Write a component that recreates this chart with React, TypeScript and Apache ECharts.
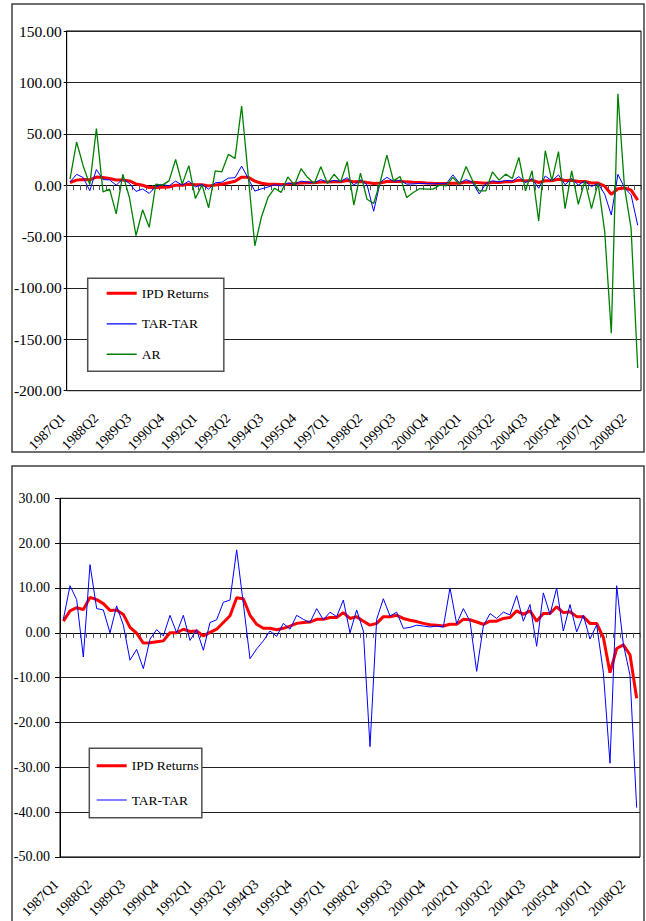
import React, { useEffect, useRef } from "react";
import * as echarts from "echarts";

const QUARTERS = [
  "1987Q1","1987Q2","1987Q3","1987Q4","1988Q1","1988Q2","1988Q3","1988Q4",
  "1989Q1","1989Q2","1989Q3","1989Q4","1990Q1","1990Q2","1990Q3","1990Q4",
  "1991Q1","1991Q2","1991Q3","1991Q4","1992Q1","1992Q2","1992Q3","1992Q4",
  "1993Q1","1993Q2","1993Q3","1993Q4","1994Q1","1994Q2","1994Q3","1994Q4",
  "1995Q1","1995Q2","1995Q3","1995Q4","1996Q1","1996Q2","1996Q3","1996Q4",
  "1997Q1","1997Q2","1997Q3","1997Q4","1998Q1","1998Q2","1998Q3","1998Q4",
  "1999Q1","1999Q2","1999Q3","1999Q4","2000Q1","2000Q2","2000Q3","2000Q4",
  "2001Q1","2001Q2","2001Q3","2001Q4","2002Q1","2002Q2","2002Q3","2002Q4",
  "2003Q1","2003Q2","2003Q3","2003Q4","2004Q1","2004Q2","2004Q3","2004Q4",
  "2005Q1","2005Q2","2005Q3","2005Q4","2006Q1","2006Q2","2006Q3","2006Q4",
  "2007Q1","2007Q2","2007Q3","2007Q4","2008Q1","2008Q2","2008Q3",
];

const IPD_RETURNS = [
  2.6, 4.9, 5.6, 5.2, 7.9, 7.4, 6.5, 5.0, 5.1, 4.1,
  1.2, -0.1, -2.3, -2.2, -2.0, -1.8, 0.0, 0.0, 0.8, 0.3,
  0.4, -0.7, 0.1, 0.8, 2.3, 3.8, 7.8, 7.6, 3.9, 1.9,
  1.0, 1.0, 0.7, 1.0, 1.5, 2.1, 2.3, 2.4, 3.0, 3.0,
  3.4, 3.4, 4.5, 3.2, 3.6, 2.6, 1.7, 2.1, 3.6, 3.6,
  3.9, 3.2, 2.8, 2.5, 2.1, 1.8, 1.7, 1.5, 1.9, 1.9,
  3.0, 2.9, 2.4, 1.9, 2.6, 2.6, 3.2, 3.4, 4.9, 4.1,
  4.9, 2.6, 4.3, 4.3, 5.8, 4.5, 4.7, 3.6, 3.6, 2.1,
  2.1, -1.0, -8.9, -3.5, -2.7, -4.9, -14.6,
];

const TAR_TAR = [
  3.0, 10.5, 7.4, -5.4, 15.2, 5.4, 5.1, 0.0, 6.0, 1.7,
  -6.1, -3.7, -8.0, -1.4, 0.7, -0.7, 3.9, 0.0, 3.9, -1.7,
  0.7, -3.9, 2.3, 2.9, 6.8, 7.3, 18.5, 6.5, -5.8, -3.6,
  -1.8, 0.4, -0.8, 2.1, 0.8, 3.9, 3.0, 2.3, 5.4, 2.9,
  4.6, 3.6, 7.3, 0.0, 5.1, 0.4, -25.4, 3.0, 7.6, 3.75,
  4.6, 1.0, 1.2, 1.7, 1.5, 1.3, 1.5, 1.3, 10.0, 2.0,
  5.4, 2.6, -8.6, 1.5, 4.3, 3.2, 4.6, 4.0, 8.3, 2.6,
  6.3, -3.0, 8.9, 4.1, 10.0, 0.4, 6.3, 0.2, 3.9, -1.4,
  1.8, -8.8, -29.1, 10.5, -2.5, -9.5, -39.0,
];

const AR = [
  5.8, 42, 18.7, 0.5, 55, -6.5, -3.9, -28, 10.6, -12,
  -49, -24, -41, 1, 0, 4.2, 25, 1, 19, -13,
  0.3, -22, 14, 13, 30, 26, 77, 9, -59, -31,
  -12, -3, -7, 8, 0, 16, 7.4, 1.6, 18, 1.6,
  10.6, 3.2, 22.8, -19.5, 11.7, -13.7, -17.9, 3.3, 29.3, 4.2,
  8.5, -12, -7.2, -3.3, -3.9, -3.9, 0, -0.7, 7.5, 1,
  18.2, 4.2, -5.5, -5.5, 13, 4.9, 10.7, 6.5, 27, -5.5,
  14, -34.9, 33.5, 4.2, 32.6, -22.8, 14, -18.6, 4.2, -22.8,
  2, -45, -144, 89, -2, -42, -178,
];

const TOP_Y_RANGE = [-200, 150];
const TOP_Y_STEP = 50;
const BOTTOM_Y_RANGE = [-50, 30];
const BOTTOM_Y_STEP = 10;

const FONT = '"Liberation Serif", "Times New Roman", serif';

// legend line icons (tiny corner points keep the 30x14 box so the bar keeps its thickness)
const lineIcon = (thick: number) => {
  const y0 = 7 - thick / 2;
  return `path://M0,0h0.01v0.01h-0.01z M29.99,13.99h0.01v0.01h-0.01z M0,${y0}h30v${thick}h-30z`;
};

export default function App() {
  const ref = useRef<HTMLDivElement>(null);

  useEffect(() => {
    if (!ref.current) return;
    const chart = echarts.init(ref.current, null, { renderer: "svg" });

    const zeroAxis = (gridIndex: number) => ({
      type: "category",
      gridIndex,
      data: QUARTERS,
      boundaryGap: true,
      position: "bottom",
      axisLine: { show: true, onZero: true, lineStyle: { color: "#000", width: 1 } },
      axisTick: { show: true, interval: 0, length: 5, inside: false, lineStyle: { color: "#555", width: 1 } },
      axisLabel: { show: false },
      splitLine: { show: false },
    });
    const labelAxis = (gridIndex: number) => ({
      type: "category",
      gridIndex,
      data: QUARTERS,
      boundaryGap: true,
      position: "bottom",
      axisLine: { show: false, onZero: false },
      axisTick: { show: false },
      axisLabel: {
        show: true,
        interval: 4,
        rotate: 45,
        margin: 18,
        formatter: (v: string) => `{q|${v}}`,
        rich: {
          q: {
            padding: [0, 10, 0, 0],
            fontSize: 14,
            fontFamily: FONT,
            color: "#000",
          },
        },
        fontSize: 14,
        fontFamily: FONT,
        color: "#000",
      },
      splitLine: { show: false },
    });
    const yAxis = (gridIndex: number, range: number[], step: number, fontSize: number, margin: number, tick: number) => ({
      type: "value",
      gridIndex,
      min: range[0],
      max: range[1],
      interval: step,
      axisLine: { show: true, lineStyle: { color: "#000", width: 1 } },
      axisTick: { show: true, length: tick, lineStyle: { color: "#000" } },
      axisLabel: {
        formatter: (v: number) => v.toFixed(2),
        fontSize,
        fontFamily: FONT,
        color: "#000",
        margin,
      },
      splitLine: { show: true, lineStyle: { color: "#222", width: 1 } },
    });

    const legendCommon = {
      orient: "vertical",
      itemWidth: 30,
      itemHeight: 14,
      backgroundColor: "#fff",
      borderColor: "#505050",
      borderWidth: 1.5,
      borderRadius: 0,
      selectedMode: false,
      itemStyle: { borderWidth: 0 },
      textStyle: { fontFamily: FONT, fontSize: 13.5, color: "#000" },
    };

    const option = {
      animation: false,
      backgroundColor: "#fff",
      graphic: [
        {
          type: "rect",
          z: -10,
          shape: { x: 12, y: 4, width: 632, height: 448 },
          style: { fill: "none", stroke: "#404040", lineWidth: 1.5 },
        },
        {
          type: "rect",
          z: -10,
          shape: { x: 12, y: 466, width: 632, height: 470 },
          style: { fill: "none", stroke: "#404040", lineWidth: 1.5 },
        },
      ],
      grid: [
        { left: 66.7, top: 31, width: 574.3, height: 359.7, show: true, borderColor: "#000", borderWidth: 1, backgroundColor: "transparent" },
        { left: 60, top: 498.3, width: 580, height: 360.7, show: true, borderColor: "#000", borderWidth: 1, backgroundColor: "transparent" },
      ],
      xAxis: [zeroAxis(0), labelAxis(0), zeroAxis(1), labelAxis(1)],
      yAxis: [
        yAxis(0, TOP_Y_RANGE, TOP_Y_STEP, 15.5, 5, 3),
        yAxis(1, BOTTOM_Y_RANGE, BOTTOM_Y_STEP, 14, 10, 5),
      ],
      legend: [
        {
          ...legendCommon,
          data: [
            { name: "IPD Returns", icon: lineIcon(3) },
            { name: "TAR-TAR", icon: lineIcon(1.2) },
            { name: "AR", icon: lineIcon(1.4) },
          ],
          left: 87.7,
          top: 278.3,
          padding: [8, 15, 10, 19],
          itemGap: 16.5,
        },
        {
          ...legendCommon,
          data: [
            { name: "IPD Returns", icon: lineIcon(3) },
            { name: "TAR-TAR", icon: lineIcon(1.2) },
          ],
          left: 89.3,
          top: 748.3,
          padding: [10.4, 3, 10.7, 7.4],
          itemGap: 20.3,
        },
      ],
      series: [
        {
          name: "IPD Returns", type: "line", xAxisIndex: 0, yAxisIndex: 0, data: IPD_RETURNS,
          symbol: "none", z: 2, lineStyle: { color: "#ff0000", width: 3 }, itemStyle: { color: "#ff0000" },
        },
        {
          name: "TAR-TAR", type: "line", xAxisIndex: 0, yAxisIndex: 0, data: TAR_TAR,
          symbol: "none", z: 3, lineStyle: { color: "#0000ff", width: 1 }, itemStyle: { color: "#0000ff" },
        },
        {
          name: "AR", type: "line", xAxisIndex: 0, yAxisIndex: 0, data: AR,
          symbol: "none", z: 4, lineStyle: { color: "#008000", width: 1.3 }, itemStyle: { color: "#008000" },
        },
        {
          name: "IPD Returns", type: "line", xAxisIndex: 2, yAxisIndex: 1, data: IPD_RETURNS,
          symbol: "none", z: 2, lineStyle: { color: "#ff0000", width: 3 }, itemStyle: { color: "#ff0000" },
        },
        {
          name: "TAR-TAR", type: "line", xAxisIndex: 2, yAxisIndex: 1, data: TAR_TAR,
          symbol: "none", z: 3, lineStyle: { color: "#0000ff", width: 1 }, itemStyle: { color: "#0000ff" },
        },
      ],
    };

    chart.setOption(option as any);
    return () => chart.dispose();
  }, []);

  return (
    <div
      ref={ref}
      style={{ position: "fixed", left: 0, top: 0, width: 646, height: 921, background: "#fff" }}
    />
  );
}
